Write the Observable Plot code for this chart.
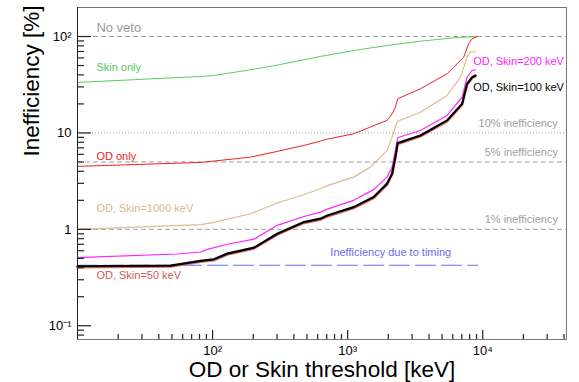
<!DOCTYPE html>
<html><head><meta charset="utf-8">
<script src="https://cdn.jsdelivr.net/npm/d3@7"></script>
<script src="https://cdn.jsdelivr.net/npm/@observablehq/plot@0.6"></script>
<style>
html,body{margin:0;padding:0;background:#fff;}
#chart svg{display:block;}
</style></head><body><div id="chart"></div>
<script>
// Skin only
const skinOnlyX = [10, 81.5, 102, 191, 301, 628, 707, 1107, 1958, 3455, 6100, 9090];
const skinOnlyY = [33.4, 38.5, 39.4, 45.2, 50.5, 62.1, 64, 71.6, 80.7, 89.4, 97, 100];
// OD only
const odOnlyX = [10, 81.5, 191, 301, 475, 628, 707, 1107, 1958, 2133, 2256, 2345, 3455, 5450, 7230, 7870, 8340, 9090];
const odOnlyY = [4.5, 4.94, 5.61, 6.43, 7.42, 8.22, 8.62, 9.8, 13.5, 15.8, 18.5, 22.6, 28.7, 41.1, 61.1, 84, 94.6, 100];
// OD, Skin=1000 keV
const skin1000X = [10, 81.5, 102, 191, 301, 475, 628, 707, 1107, 1472, 1958, 2133, 2256, 2345, 3455, 5450, 6840, 7660, 8100, 8830];
const skin1000Y = [1.0, 1.12, 1.18, 1.45, 1.875, 2.30, 2.64, 2.84, 3.48, 4.42, 6.59, 9.04, 11.5, 13.2, 16.4, 24.5, 37.8, 61.1, 68.8, 69.5];
// OD, Skin=200 keV
const skin200X = [10, 54.8, 81.5, 91.4, 128.5, 203, 301, 475, 628, 707, 1107, 1558, 1958, 2133, 2256, 2345, 3455, 5450, 7040, 7660, 8340, 8830];
const skin200Y = [0.509, 0.555, 0.582, 0.62, 0.70, 0.79, 1.10, 1.36, 1.51, 1.62, 2.0, 2.58, 3.48, 4.42, 6.59, 8.91, 10.6, 15.2, 23.5, 37.8, 44.4, 45.2];
// OD, Skin=100 keV
const skin100X = [10, 48.9, 81.5, 102, 128.5, 203, 301, 475, 628, 707, 1107, 1558, 1958, 2133, 2256, 2345, 3455, 5450, 7040, 7660, 8340, 8830];
const skin100Y = [0.414, 0.42, 0.47, 0.489, 0.56, 0.646, 0.90, 1.19, 1.29, 1.39, 1.70, 2.16, 2.98, 3.78, 5.61, 7.84, 9.42, 13.5, 20.1, 32.3, 37.8, 39.4];
// OD, Skin=50 keV
const skin50X = [10, 48.9, 81.5, 102, 128.5, 203, 301, 475, 628, 707, 1107, 1558, 1958, 2133, 2256, 2345, 3455, 5450, 7040, 7660, 8340, 8830];
const skin50Y = [0.405, 0.411, 0.46, 0.478, 0.548, 0.632, 0.88, 1.165, 1.26, 1.36, 1.66, 2.11, 2.91, 3.70, 5.49, 7.67, 9.2, 13.2, 19.7, 31.6, 37.0, 38.5];
// Timing inefficiency
const timingX = [10, 9200];
const timingY = [0.424, 0.424];
// Reference levels
const noVetoLevel = [100];
const tenPctLevel = [10];
const fivePctLevel = [5];
const onePctLevel = [1];

// Tick values / labels
const xMajor = [100, 1000, 10000];
const xMajorLabels = ["10²", "10³", "10⁴"];
const xMinor = [20,30,40,50,60,70,80,90,200,300,400,500,600,700,800,900,2000,3000,4000,5000,6000,7000,8000,9000,20000,30000,40000];
const yMajor = [0.1, 1, 10, 100];
const yMajorLabels = ["10⁻¹", "1", "10", "10²"];
const yMinor = [0.08,0.09,0.2,0.3,0.4,0.5,0.6,0.7,0.8,0.9,2,3,4,5,6,7,8,9,20,30,40,50,60,70,80,90];

// Annotation texts (positions in data units)
const leftLabels = ["No veto", "Skin only", "OD only", "OD, Skin=1000 keV", "OD, Skin=50 keV"];
const leftLabelY = [124, 47.7, 5.71, 1.65, 0.334];
const rightLabels = ["10% inefficiency", "5% inefficiency", "1% inefficiency"];
const rightLabelY = [12.45, 6.32, 1.26];
const labelLeftX = 13.8;
const labelRightX = 36000;
const endLabels = ["OD, Skin=200 keV", "OD, Skin=100 keV"];
const endLabelY = [55, 29.4];
const endLabelX = 8490;
const timingLabel = "Inefficiency due to timing";
const timingLabelX = 2085;
const timingLabelY = 0.578;

const grey = "#a0a0a0";
const font = "'Liberation Sans', Arial, Helvetica, sans-serif";

const W = 579, H = 382, ML = 77, MT = 7, MR = 13, MB = 43;
const FW = W - ML - MR, FH = H - MT - MB;
const xDomain = [10, 41700];
const yDomain = [0.072, 200];
const xDec = Math.log10(xDomain[1] / xDomain[0]);
const yDec = Math.log10(yDomain[1] / yDomain[0]);
const xAt = px => xDomain[0] * Math.pow(10, px * xDec / FW);
const yAt = px => yDomain[0] * Math.pow(10, px * yDec / FH);

const fmtX = d => xMajorLabels[xMajor.indexOf(d)];
const fmtY = d => yMajorLabels[yMajor.indexOf(d)];

const chart = Plot.plot({
  width: W,
  height: H,
  marginLeft: ML,
  marginTop: MT,
  marginRight: MR,
  marginBottom: MB,
  style: {fontFamily: font, fontSize: "13px", background: "white"},
  x: {type: "log", domain: xDomain, axis: null},
  y: {type: "log", domain: yDomain, axis: null},
  marks: [
    Plot.ruleY(noVetoLevel, {stroke: grey, strokeDasharray: "5,3"}),
    Plot.ruleY(tenPctLevel, {stroke: grey, strokeDasharray: "1,2"}),
    Plot.ruleY(fivePctLevel, {stroke: grey, strokeDasharray: "5,3"}),
    Plot.ruleY(onePctLevel, {stroke: grey, strokeDasharray: "5,3"}),
    Plot.line(timingX, {x: timingX, y: timingY, stroke: "#6a6af0", strokeWidth: 1, strokeDasharray: "20,6"}),
    Plot.line(skinOnlyX, {x: skinOnlyX, y: skinOnlyY, stroke: "#5ccc5c", strokeWidth: 1}),
    Plot.line(odOnlyX, {x: odOnlyX, y: odOnlyY, stroke: "#ee2222", strokeWidth: 1}),
    Plot.line(skin1000X, {x: skin1000X, y: skin1000Y, stroke: "#dcbb8e", strokeWidth: 1.2}),
    Plot.line(skin200X, {x: skin200X, y: skin200Y, stroke: "#ff22ff", strokeWidth: 1.2}),
    Plot.line(skin50X, {x: skin50X, y: skin50Y, stroke: "#e07070", strokeWidth: 2.5}),
    Plot.line(skin100X, {x: skin100X, y: skin100Y, stroke: "#000", strokeWidth: 2.2}),
    Plot.text(leftLabels, {x: labelLeftX, y: leftLabelY, text: d => d, textAnchor: "start", fontSize: (d, i) => i === 0 ? 13 : 11,
      fill: ["#999999", "#55c855", "#ee2222", "#d8b88a", "#d05a5a"]}),
    Plot.text(rightLabels, {x: labelRightX, y: rightLabelY, text: d => d, textAnchor: "end", fontSize: 11, fill: grey}),
    Plot.text(endLabels, {x: endLabelX, y: endLabelY, text: d => d, textAnchor: "start", fontSize: 11,
      fill: ["#ff22ff", "#000"], fontWeight: (d, i) => i === 1 ? "bold" : "normal"}),
    Plot.text([timingLabel], {x: timingLabelX, y: timingLabelY, text: d => d, textAnchor: "middle", fontSize: 11, fill: "#6a6af0"}),
    Plot.frame({stroke: "#777"}),
    // inward ticks
    Plot.ruleX(xMajor, {x: d => d, y1: () => yDomain[0], y2: () => yAt(9), stroke: "#222", strokeWidth: 1.2}),
    Plot.ruleX(xMinor, {x: d => d, y1: () => yDomain[0], y2: () => yAt(5), stroke: "#222", strokeWidth: 1.2}),
    Plot.ruleY(yMajor, {y: d => d, x1: () => xDomain[0], x2: () => xAt(14), stroke: "#222", strokeWidth: 1.2}),
    Plot.ruleY(yMinor, {y: d => d, x1: () => xDomain[0], x2: () => xAt(7), stroke: "#222", strokeWidth: 1.2}),
    Plot.ruleX([xDomain[0]], {stroke: "#222"}),
    Plot.axisX({ticks: xMajor, tickSize: 0, tickPadding: 6, tickFormat: fmtX, label: null, fontSize: 13, fill: "#000"}),
    Plot.axisY({ticks: yMajor, tickSize: 0, tickPadding: 6, tickFormat: fmtY, label: null, fontSize: 13, fill: "#000"}),
    Plot.text(["Inefficiency [%]"], {frameAnchor: "top-left", rotate: -90, textAnchor: "end", lineAnchor: "bottom", dx: -39, dy: -2, fontSize: 22.5, fill: "#000"}),
    Plot.text(["OD or Skin threshold [keV]"], {frameAnchor: "bottom", lineAnchor: "bottom", dy: 37.5, fontSize: 22.5, fill: "#000"})
  ]
});
document.getElementById("chart").appendChild(chart);
</script>
</body></html>
